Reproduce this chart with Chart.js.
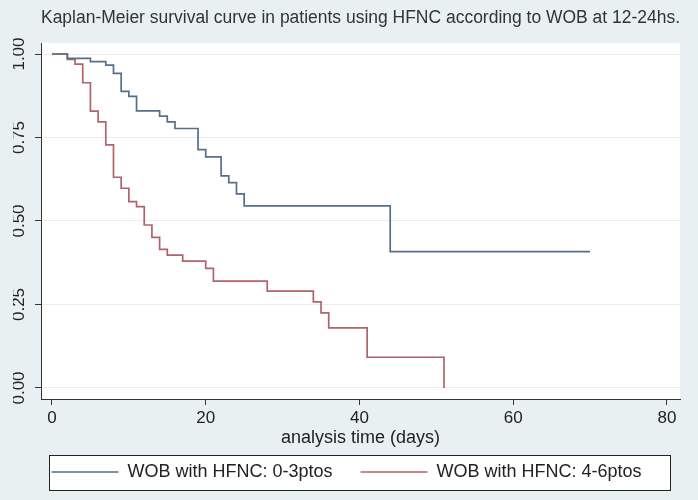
<!DOCTYPE html>
<html lang="en">
<head>
    <meta charset="UTF-8">
    <title>Kaplan-Meier survival curve</title>
    <script src="https://cdn.jsdelivr.net/npm/chart.js@4"></script>
    <style>
        html, body { margin: 0; padding: 0; background: #e9f0f2; }
        #wrap { width: 698px; height: 500px; }
    </style>
</head>
<body>
    <div id="wrap"><canvas id="kmChart" width="698" height="500"></canvas></div>

    <script>
        // survival steps (time in days, survival after the drop)
        const lowTimes = [0, 2, 5, 7, 8, 9, 10, 11, 14, 15, 16, 19, 20, 22, 23, 24, 25, 44, 70];
        const lowSurv  = [1.0, 0.987, 0.977, 0.967, 0.942, 0.888, 0.873, 0.830, 0.814, 0.797, 0.777,
                          0.714, 0.692, 0.635, 0.615, 0.581, 0.545, 0.408, 0.408];

        const highTimes = [0, 2, 3, 4, 5, 6, 7, 8, 9, 10, 11, 12, 13, 14, 15, 17, 20, 21, 28, 34, 35, 36, 41, 51];
        const highSurv  = [1.0, 0.984, 0.970, 0.914, 0.829, 0.797, 0.728, 0.631, 0.598, 0.558, 0.543,
                           0.488, 0.451, 0.415, 0.398, 0.380, 0.358, 0.320, 0.290, 0.258, 0.225, 0.180, 0.092, 0.0];

        const seriesNames = ['WOB with HFNC: 0-3ptos', 'WOB with HFNC: 4-6ptos'];
        const xTicks = [0, 20, 40, 60, 80];
        const yTicks = [0, 0.25, 0.5, 0.75, 1];

        const toPoints = (xs, ys) => xs.map((x, i) => ({ x: x, y: ys[i] }));

        const FONT = "'Liberation Sans', Arial, sans-serif";

        // stata-like backdrop: light blue page, white plot region, boxed legend
        const backdrop = {
            id: 'backdrop',
            beforeDraw(chart) {
                const { ctx, chartArea: a, legend } = chart;
                ctx.save();
                ctx.fillStyle = '#e9f0f2';
                ctx.fillRect(0, 0, chart.width, chart.height);
                ctx.fillStyle = '#ffffff';
                ctx.fillRect(a.left, a.top, a.right - a.left, a.bottom - a.top);
                // legend frame
                const top = Math.round(legend.top + 20);
                const bottom = Math.round(legend.bottom - 1);
                const left = Math.round(a.left + 8);
                const right = Math.round(a.right - 10);
                ctx.fillStyle = '#ffffff';
                ctx.fillRect(left, top, right - left, bottom - top);
                ctx.strokeStyle = '#222';
                ctx.lineWidth = 1;
                ctx.strokeRect(left + 0.5, top + 0.5, right - left, bottom - top);
                ctx.restore();
            }
        };

        new Chart(document.getElementById('kmChart'), {
            type: 'line',
            data: {
                datasets: [
                    {
                        label: seriesNames[0],
                        data: toPoints(lowTimes, lowSurv),
                        borderColor: '#56708c',
                        backgroundColor: '#56708c',
                        borderWidth: 1.7,
                        stepped: 'before',
                        pointRadius: 0,
                        fill: false
                    },
                    {
                        label: seriesNames[1],
                        data: toPoints(highTimes, highSurv),
                        borderColor: '#b0636b',
                        backgroundColor: '#b0636b',
                        borderWidth: 1.7,
                        stepped: 'before',
                        pointRadius: 0,
                        fill: false
                    }
                ]
            },
            options: {
                responsive: false,
                animation: false,
                layout: { padding: { left: 13, right: 18, top: 0, bottom: 9 } },
                scales: {
                    x: {
                        type: 'linear',
                        min: -1.43,
                        max: 81.7,
                        afterBuildTicks: (s) => { s.ticks = xTicks.map(v => ({ value: v })); },
                        afterFit: (s) => { s.height = 36; },
                        grid: { drawOnChartArea: false, tickLength: 6, tickColor: '#333', tickWidth: 1 },
                        border: { color: '#333', width: 1 },
                        ticks: { color: '#222', font: { family: FONT, size: 17 }, padding: 3, maxRotation: 0 },
                        title: {
                            display: true,
                            text: 'analysis time (days)',
                            color: '#222',
                            font: { family: FONT, size: 18 },
                            padding: { top: 0, bottom: -13.8 }
                        }
                    },
                    y: {
                        min: -0.033,
                        max: 1.033,
                        afterBuildTicks: (s) => { s.ticks = yTicks.map(v => ({ value: v })); },
                        afterFit: (s) => { s.width = 28; },
                        grid: { color: '#ececec', tickLength: 6, tickColor: '#333', tickWidth: 1 },
                        border: { color: '#333', width: 1 },
                        ticks: {
                            color: '#222',
                            font: { family: FONT, size: 17 },
                            padding: -1,
                            minRotation: 90,
                            maxRotation: 90,
                            crossAlign: 'center',
                            callback: (v) => Number(v).toFixed(2)
                        }
                    }
                },
                plugins: {
                    title: {
                        display: true,
                        fullSize: false,
                        text: 'Kaplan-Meier survival curve in patients using HFNC according to WOB at 12-24hs.',
                        color: '#333',
                        font: { family: FONT, size: 18, weight: 'normal' },
                        padding: { top: 7.2, bottom: 14.2 }
                    },
                    legend: {
                        position: 'bottom',
                        labels: {
                            usePointStyle: true,
                            pointStyle: 'line',
                            pointStyleWidth: 67,
                            padding: 28,
                            color: '#222',
                            font: { family: FONT, size: 18 }
                        }
                    },
                    tooltip: { enabled: false }
                }
            },
            plugins: [backdrop]
        });
    </script>
</body>
</html>
